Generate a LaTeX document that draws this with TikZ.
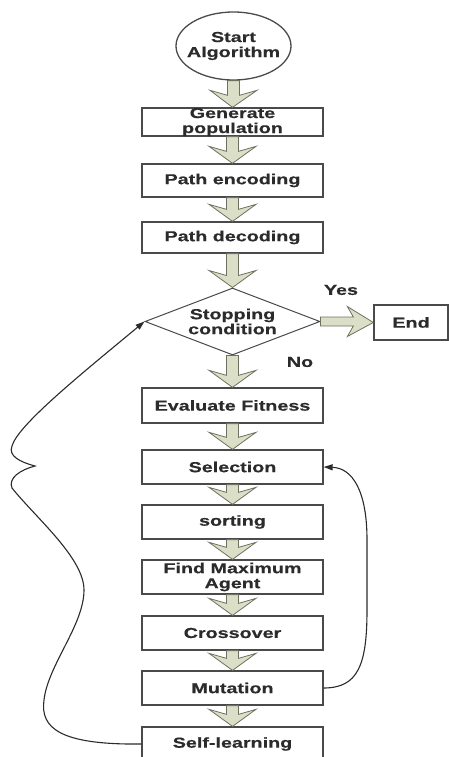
\documentclass[tikz,border=0pt]{standalone}
\usepackage{fontspec}
\usepackage{tikz}
\usetikzlibrary{positioning,shapes.geometric,arrows.meta,calc}
\newfontfamily\flowfont{Liberation Sans}[FakeStretch=1.37,FakeBold=0.4]
\definecolor{ink}      {HTML}{2B2B2B}
\definecolor{frame}    {HTML}{4A4A4A}
\definecolor{sage}     {HTML}{DCDFC8}
\definecolor{sagedark} {HTML}{6F705F}
\tikzset{
  % --- nodes
  stage/.style   = {draw=frame, line width=1.3pt, fill=white, minimum width=181,
                    minimum height=34, inner sep=0pt, align=center, text=ink,
                    font=\flowfont\bfseries\fontsize{14.4}{15}\selectfont},
  capsule/.style = {stage, draw=none, fill=none, minimum width=115, minimum height=68},
  decision/.style= {stage, diamond, aspect=2.6, line width=1pt, minimum width=175,
                    minimum height=67},
  lbl/.style     = {inner sep=0pt, text=ink,
                    font=\flowfont\bfseries\fontsize{14.4}{15}\selectfont},
  % --- block arrows
  fatarr/.style  = {draw=sagedark, fill=sage, line width=0.8pt, line join=miter},
  % --- edges
  loop/.style    = {line width=1.1pt, draw=ink, -{Triangle[length=9pt,width=6pt]}},
}
% block arrow, downwards from #1 to #2
\newcommand{\fatdown}[2]{%
  \draw[fatarr] let \p1=(#1), \p2=(#2) in
    ({\x1-6pt},\y1) -- ({\x1-6pt},{\y2+12pt}) -- ({\x1-23.5pt},{\y2+17pt})
    -- (\p2) -- ({\x1+23.5pt},{\y2+17pt}) -- ({\x1+6pt},{\y2+12pt})
    -- ({\x1+6pt},\y1) -- cycle;}
% block arrow, to the right from #1 to #2
\newcommand{\fatright}[2]{%
  \draw[fatarr] let \p1=(#1), \p2=(#2) in
    (\x1,{\y1+4.5pt}) -- ({\x2-20pt},{\y1+4.5pt}) -- ({\x2-26pt},{\y1+15pt})
    -- (\p2) -- ({\x2-26pt},{\y1-15pt}) -- ({\x2-20pt},{\y1-4.5pt})
    -- (\x1,{\y1-4.5pt}) -- cycle;}

\begin{document}
\begin{tikzpicture}[x=1pt,y=-1pt]
  \useasboundingbox (0,0) rectangle (449,757);

  \node[capsule] (start) at (233.5,46) {Start\\Algorithm};
  \draw[frame, line width=1.3pt] (start.center) ellipse [x radius=57.5pt, y radius=34pt];

  \node[stage, minimum height=28] (gen) at (232.5,122) {Generate\\population};
  \node[stage, minimum height=33] (enc) at (232.5,180.5) {Path encoding};
  \node[stage, minimum height=31] (dec) at (232.5,237.5) {Path decoding};
  \node[decision] (stop) at (232.5,321.5) {Stopping\\condition};
  \node[stage, minimum width=74, minimum height=35] (end) at (411,322.5) {End};
  \node[lbl] (yes) at (341,290) {Yes};
  \node[lbl] (no) at (300,362) {No};

  \node[stage, minimum height=35] (eval) at (232.5,405.5) {Evaluate Fitness};
  \node[stage] (sel) at (232.5,467) {Selection};
  \node[stage] (sort) at (232.5,522) {sorting};
  \node[stage] (findmax) at (232.5,577) {Find Maximum\\Agent};
  \node[stage] (cross) at (232.5,633) {Crossover};
  \node[stage] (mut) at (232.5,688) {Mutation};
  \node[stage] (self) at (232.5,744) {Self-learning};

  % main flow
  \fatdown{start.south}{gen.north}
  \fatdown{gen.south}{enc.north}
  \fatdown{enc.south}{dec.north}
  \fatdown{dec.south}{stop.north}
  \fatright{stop.east}{end.west}
  \fatdown{stop.south}{eval.north}
  \fatdown{eval.south}{sel.north}
  \fatdown{sel.south}{sort.north}
  \fatdown{sort.south}{findmax.north}
  \fatdown{findmax.south}{cross.north}
  \fatdown{cross.south}{mut.north}
  \fatdown{mut.south}{self.north}

  % feedback loops
  \draw[loop] (self.west) .. controls (60,745) and (40,728) .. (44,700)
    .. controls (48,665) and (84,625) .. (84,590)
    .. controls (84,558) and (36,518) .. (12,488)
    .. controls (8,478) and (20,470) .. (35,466)
    .. controls (20,462) and (8,456) .. (12,446)
    .. controls (18,425) and (80,375) .. (stop.west);
  \draw[loop] (mut.east) .. controls (358,688) and (367,665) .. (367,610)
    -- (367,540)
    .. controls (367,490) and (352,468) .. (sel.east);
\end{tikzpicture}
\end{document}
